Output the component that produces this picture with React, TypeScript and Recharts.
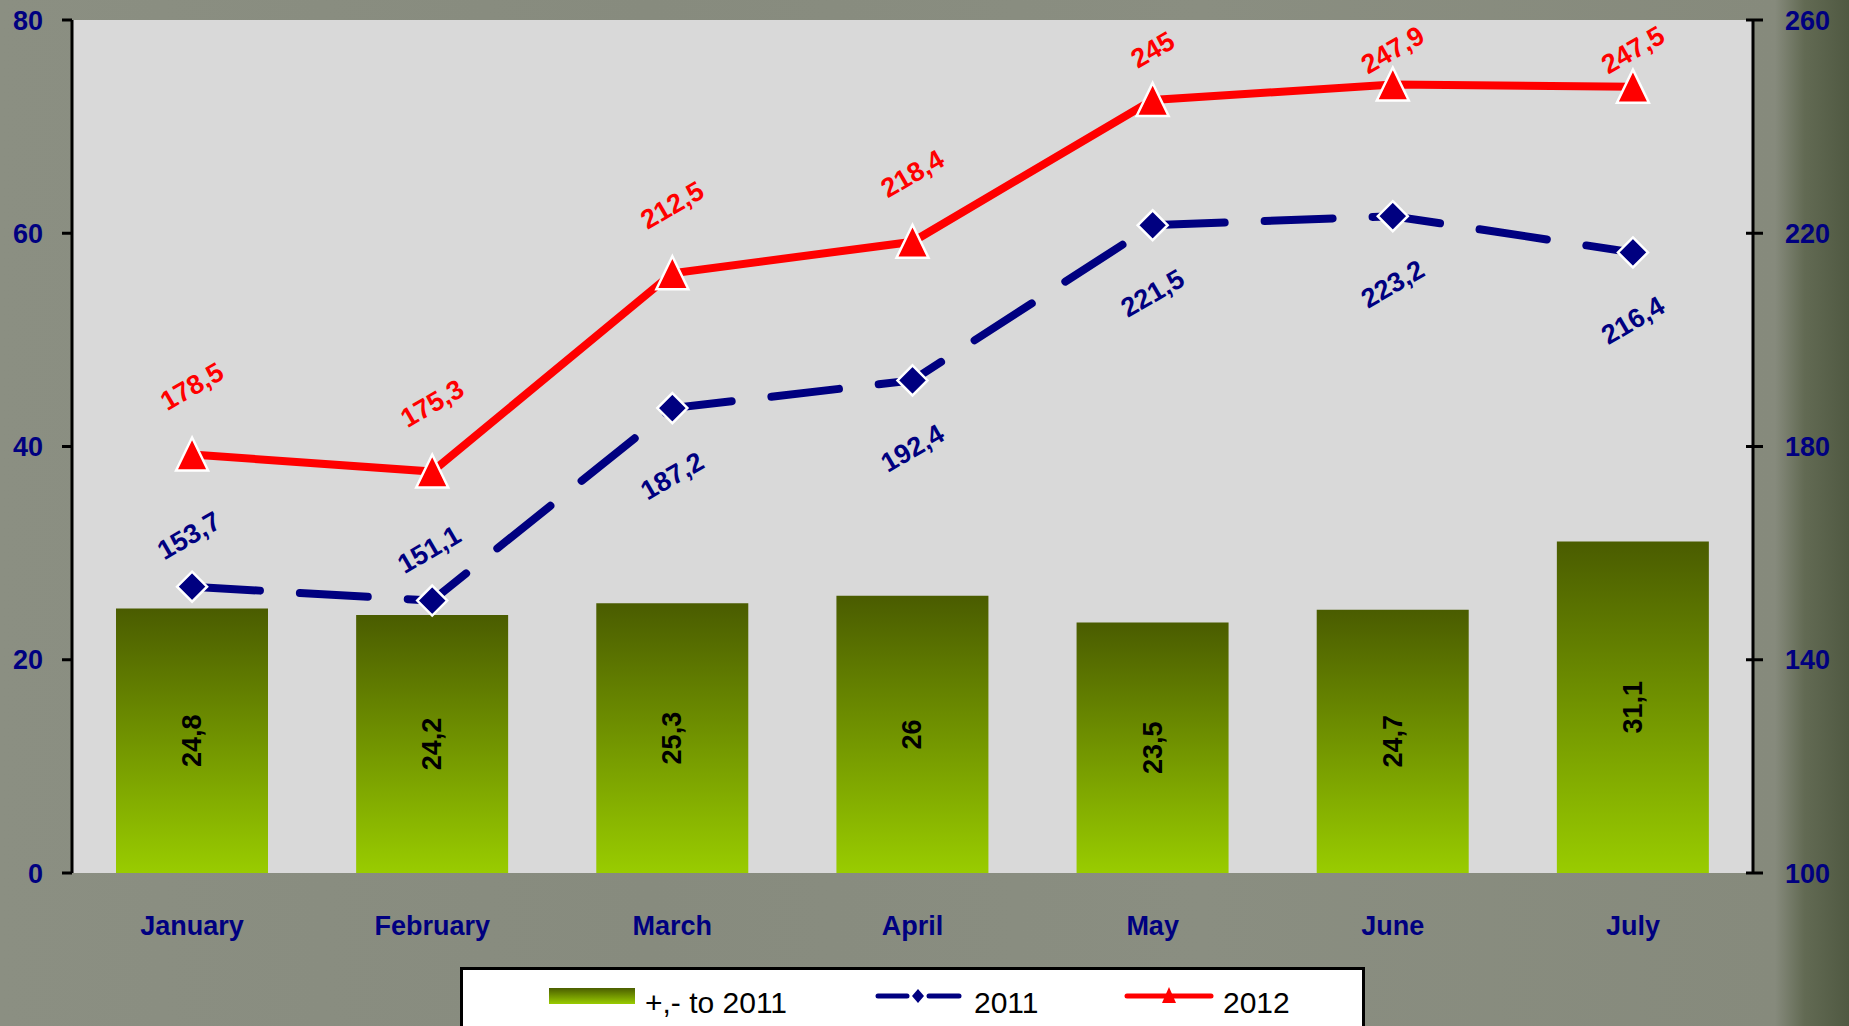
import React from 'react';
import {
  ComposedChart,
  Bar,
  Line,
  XAxis,
  YAxis,
  CartesianGrid,
  LabelList,
  Legend,
} from 'recharts';

// ---------- data ----------
const months = ['January', 'February', 'March', 'April', 'May', 'June', 'July'];
const diffTo2011 = [24.8, 24.2, 25.3, 26, 23.5, 24.7, 31.1];
const sales2011 = [153.7, 151.1, 187.2, 192.4, 221.5, 223.2, 216.4];
const sales2012 = [178.5, 175.3, 212.5, 218.4, 245, 247.9, 247.5];
const leftTicks = [0, 20, 40, 60, 80];
const rightTicks = [100, 140, 180, 220, 260];
const edgeTicks = [0, 1, 2, 3, 4, 5, 6, 7];
const seriesNames = ['+,- to 2011', '2011', '2012'];

const data = months.map((m, i) => ({
  month: m,
  diff: diffTo2011[i],
  y2011: sales2011[i],
  y2012: sales2012[i],
}));

// ---------- style ----------
const FONT = '"Liberation Sans", Arial, Helvetica, sans-serif';
const NAVY = '#000080';
const RED = '#FF0000';
const W = 1849;
const H = 1026;

const fmt = (v: any) => String(v).replace('.', ',');

const boxOf = (p: any) => {
  const vb = p.viewBox || {};
  const x = typeof vb.x === 'number' ? vb.x : p.x;
  const y = typeof vb.y === 'number' ? vb.y : p.y;
  const width = typeof vb.width === 'number' ? vb.width : p.width || 0;
  const height = typeof vb.height === 'number' ? vb.height : p.height || 0;
  return { x: Number(x), y: Number(y), width: Number(width), height: Number(height) };
};

const BarValueLabel = (p: any) => {
  const b = boxOf(p);
  const cx = b.x + b.width / 2;
  const cy = b.y + b.height / 2;
  return (
    <text
      x={cx}
      y={cy}
      transform={`rotate(-90 ${cx} ${cy})`}
      textAnchor="middle"
      dominantBaseline="central"
      fontFamily={FONT}
      fontWeight="bold"
      fontSize={27}
      fill="#000"
    >
      {fmt(p.value)}
    </text>
  );
};

const RedLabel = (p: any) => {
  const b = boxOf(p);
  const cx = b.x;
  const cy = Math.max(b.y - 68, 50);
  return (
    <text
      x={cx}
      y={cy}
      transform={`rotate(-30 ${cx} ${cy})`}
      textAnchor="middle"
      dominantBaseline="central"
      fontFamily={FONT}
      fontWeight="bold"
      fontSize={27}
      fill={RED}
    >
      {fmt(p.value)}
    </text>
  );
};

const BlueLabel = (p: any) => {
  const b = boxOf(p);
  const above = p.index < 2;
  const cx = above ? b.x - 3 : b.x;
  const cy = above ? b.y - 51 : b.y + 68;
  return (
    <text
      x={cx}
      y={cy}
      transform={`rotate(-30 ${cx} ${cy})`}
      textAnchor="middle"
      dominantBaseline="central"
      fontFamily={FONT}
      fontWeight="bold"
      fontSize={27}
      fill={NAVY}
    >
      {fmt(p.value)}
    </text>
  );
};

const diamondDot = (p: any) => {
  const { cx, cy, index } = p;
  const r = 15;
  return (
    <path
      key={`dia-${index}`}
      d={`M${cx},${cy - r} L${cx + r},${cy} L${cx},${cy + r} L${cx - r},${cy} Z`}
      fill={NAVY}
      stroke="#fff"
      strokeWidth={2.5}
    />
  );
};

const triangleDot = (p: any) => {
  const { cx, cy, index } = p;
  return (
    <path
      key={`tri-${index}`}
      d={`M${cx},${cy - 17} L${cx + 16},${cy + 16} L${cx - 16},${cy + 16} Z`}
      fill={RED}
      stroke="#fff"
      strokeWidth={2.5}
      strokeLinejoin="miter"
    />
  );
};

const MonthTick = (p: any) => {
  const { x, y, payload } = p;
  return (
    <text
      x={x}
      y={y + 62}
      textAnchor="middle"
      fontFamily={FONT}
      fontWeight="bold"
      fontSize={27}
      fill={NAVY}
    >
      {payload.value}
    </text>
  );
};

const RightTick = (p: any) => {
  const { x, y, payload } = p;
  const ax = x - 32;
  return (
    <g>
      <line x1={ax - 7} x2={ax + 10} y1={y} y2={y} stroke="#000" strokeWidth={3} />
      <text
        x={x}
        y={y}
        dy="0.36em"
        textAnchor="start"
        fontFamily={FONT}
        fontWeight="bold"
        fontSize={27}
        fill={NAVY}
      >
        {payload.value}
      </text>
    </g>
  );
};

const renderLegend = () => (
  <svg width={905} height={80} style={{ display: 'block' }}>
    <defs>
      <linearGradient id="legGrad" x1="0" y1="0" x2="0" y2="1">
        <stop offset="0%" stopColor="#4B5E00" />
        <stop offset="100%" stopColor="#99CC00" />
      </linearGradient>
    </defs>
    <rect x={1.5} y={1.5} width={902} height={100} fill="#fff" stroke="#000" strokeWidth={3} />
    <rect x={89} y={21} width={86} height={16} fill="url(#legGrad)" />
    <text x={185} y={46} fontFamily={FONT} fontSize={30} fill="#000">
      {seriesNames[0]}
    </text>
    <line x1={418} x2={447} y1={29} y2={29} stroke={NAVY} strokeWidth={5} strokeLinecap="round" />
    <line x1={469} x2={499} y1={29} y2={29} stroke={NAVY} strokeWidth={5} strokeLinecap="round" />
    <path d="M458,22 L464,29 L458,36 L452,29 Z" fill={NAVY} />
    <text x={514} y={46} fontFamily={FONT} fontSize={30} fill="#000">
      {seriesNames[1]}
    </text>
    <line x1={667} x2={751} y1={29} y2={29} stroke={RED} strokeWidth={5} strokeLinecap="round" />
    <path d="M709,20 L716,36 L702,36 Z" fill={RED} />
    <text x={763} y={46} fontFamily={FONT} fontSize={30} fill="#000">
      {seriesNames[2]}
    </text>
  </svg>
);

export default function App() {
  return (
    <div
      style={{
        position: 'absolute',
        left: 0,
        top: 0,
        width: W,
        height: H,
        overflow: 'hidden',
        fontFamily: FONT,
        background:
          'linear-gradient(90deg, #8b8f82 0%, #878b7e 35%, #8a8e81 65%, #868a7c 96%, #626a53 97.6%, #505942 100%)',
      }}
    >
      <ComposedChart
        width={W}
        height={H}
        data={data}
        margin={{ top: 20, right: 0, bottom: 0, left: 0 }}
        barCategoryGap={0}
      >
        <defs>
          <linearGradient id="barGrad" x1="0" y1="0" x2="0" y2="1">
            <stop offset="0%" stopColor="#4A5C00" />
            <stop offset="100%" stopColor="#99CC00" />
          </linearGradient>
        </defs>
        <CartesianGrid
          xAxisId="cat"
          yAxisId="left"
          fill="#D9D9D9"
          horizontal={false}
          vertical={false}
          stroke="none"
        />
        <XAxis
          xAxisId="edge"
          type="number"
          domain={[0, 7]}
          ticks={edgeTicks}
          allowDataOverflow
          height={0}
          tick={false}
          tickSize={10}
          axisLine={{ stroke: '#000', strokeWidth: 3 }}
          tickLine={{ stroke: '#000', strokeWidth: 3 }}
        />
        <XAxis
          xAxisId="cat"
          dataKey="month"
          height={153}
          axisLine={false}
          tickLine={false}
          tickSize={0}
          tickMargin={0}
          interval={0}
          tick={MonthTick}
        />
        <YAxis
          yAxisId="left"
          width={72}
          domain={[0, 80]}
          ticks={leftTicks}
          tickSize={10}
          tickMargin={19}
          axisLine={{ stroke: '#000', strokeWidth: 3 }}
          tickLine={{ stroke: '#000', strokeWidth: 3 }}
          tick={{ fill: NAVY, fontSize: 27, fontWeight: 'bold', fontFamily: FONT }}
        />
        <YAxis
          yAxisId="right"
          orientation="right"
          width={96}
          domain={[100, 260]}
          ticks={rightTicks}
          tickSize={10}
          tickMargin={22}
          axisLine={{ stroke: '#000', strokeWidth: 3 }}
          tickLine={false}
          tick={RightTick}
        />
        <Bar
          xAxisId="cat"
          yAxisId="left"
          dataKey="diff"
          name={seriesNames[0]}
          barSize={152}
          fill="url(#barGrad)"
          isAnimationActive={false}
        >
          <LabelList dataKey="diff" content={BarValueLabel} />
        </Bar>
        <Line
          xAxisId="cat"
          yAxisId="right"
          type="linear"
          dataKey="y2011"
          name={seriesNames[1]}
          stroke={NAVY}
          strokeWidth={8}
          strokeDasharray="68 40"
          strokeLinecap="round"
          dot={diamondDot}
          activeDot={false}
          isAnimationActive={false}
        >
          <LabelList dataKey="y2011" content={BlueLabel} />
        </Line>
        <Line
          xAxisId="cat"
          yAxisId="right"
          type="linear"
          dataKey="y2012"
          name={seriesNames[2]}
          stroke={RED}
          strokeWidth={8}
          dot={triangleDot}
          activeDot={false}
          isAnimationActive={false}
        >
          <LabelList dataKey="y2012" content={RedLabel} />
        </Line>
        <Legend
          layout="horizontal"
          verticalAlign="middle"
          align="center"
          wrapperStyle={{ left: 460, top: 967, width: 905, height: 80 }}
          content={renderLegend}
        />
      </ComposedChart>
    </div>
  );
}
